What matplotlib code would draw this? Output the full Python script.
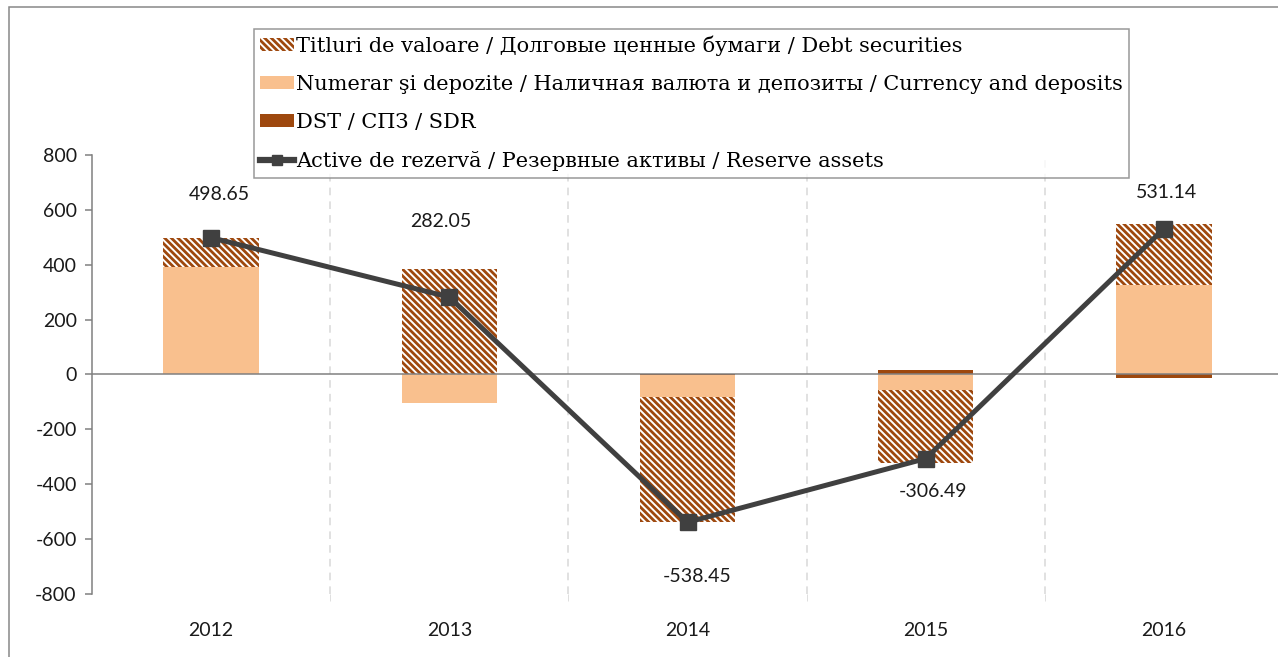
import matplotlib
matplotlib.use("Agg")
import matplotlib.pyplot as plt
import numpy as np
from matplotlib.lines import Line2D
from matplotlib.patches import Patch, Rectangle

years = ["2012", "2013", "2014", "2015", "2016"]
debt_securities = [107, 385.5, -457, -266, 223]
currency_deposits = [392, -103.5, -79, -55, 326]
sdr = [0, 0, -2, 15, -11]
reserve_assets = [498.65, 282.05, -538.45, -306.49, 531.14]

lbl_debt = "Titluri de valoare / Долговые ценные бумаги / Debt securities"
lbl_cur = "Numerar şi depozite / Наличная валюта и депозиты / Currency and deposits"
lbl_sdr = "DST / СПЗ / SDR"
lbl_res = "Active de rezervă / Резервные активы / Reserve assets"

BROWN = "#9E480E"
PEACH = "#F9C08E"
LINE = "#404040"
GRAY = "#808080"
HATCH = "\\" * 5

plt.rcParams["hatch.linewidth"] = 2.0
plt.rcParams["hatch.color"] = BROWN
plt.rcParams["axes.unicode_minus"] = False

fig = plt.figure(figsize=(12.78, 6.57), dpi=100)
ax = fig.add_axes([92 / 1278, 1 - 594 / 657, (1283 - 92) / 1278, (594 - 155) / 657])

x = np.arange(len(years))
width = 0.4

# Excel-artig: positive und negative Werte getrennt stapeln
pos_base = np.zeros(len(years))
neg_base = np.zeros(len(years))
for vals, style in [
    (sdr, dict(color=BROWN)),
    (currency_deposits, dict(color=PEACH)),
    (debt_securities, dict(facecolor="white", edgecolor=BROWN, hatch=HATCH, linewidth=0)),
]:
    v = np.array(vals, dtype=float)
    base = np.where(v >= 0, pos_base, neg_base)
    ax.bar(x, v, width, bottom=base, zorder=2, **style)
    pos_base += np.where(v >= 0, v, 0)
    neg_base += np.where(v < 0, v, 0)

ax.plot(x, reserve_assets, color=LINE, lw=3.6, marker="s", markersize=11.5, zorder=4)

label_offsets = [(8, 43), (-9, 76), (10, -54), (7, -33), (3, 36)]
for xi, val, (dx, dy) in zip(x, reserve_assets, label_offsets):
    ax.annotate(f"{val:.2f}", (xi, val), xytext=(dx, dy), textcoords="offset pixels",
                ha="center", va="center", fontsize=14, family="Lato", color="#1a1a1a")

ax.axhline(0, color=GRAY, lw=1.1, zorder=3)

ax.set_xlim(-0.5, len(years) - 0.5)
ax.set_ylim(-800, 800)
ax.set_yticks(np.arange(-800, 801, 200))
ax.set_xticks(x)
ax.set_xticklabels(years)
ax.set_xticks(x[:-1] + 0.5, minor=True)
ax.grid(which="minor", axis="x", color="#D9D9D9", ls=(0, (5, 4)), lw=1.1, zorder=0)
ax.tick_params(axis="x", which="major", length=0, pad=20)
ax.tick_params(axis="x", which="minor", length=5, color="#D9D9D9")
ax.tick_params(axis="y", length=5, color=GRAY, width=1.1, pad=6)
for lab in ax.get_xticklabels() + ax.get_yticklabels():
    lab.set_family("Lato")
    lab.set_fontsize(14)
    lab.set_color("#1a1a1a")

for side in ["top", "right", "bottom"]:
    ax.spines[side].set_visible(False)
ax.spines["left"].set_color(GRAY)
ax.spines["left"].set_linewidth(1.1)

handles = [
    Patch(facecolor="white", edgecolor=BROWN, hatch=HATCH, linewidth=0, label=lbl_debt),
    Patch(facecolor=PEACH, edgecolor="none", label=lbl_cur),
    Patch(facecolor=BROWN, edgecolor="none", label=lbl_sdr),
    Line2D([], [], color=LINE, lw=4.5, marker="s", markersize=7, label=lbl_res),
]
leg = fig.legend(handles=handles, loc="upper left", bbox_to_anchor=(254 / 1278, 1 - 29 / 657),
                 frameon=True, fancybox=False, prop={"family": "DejaVu Serif", "size": 15},
                 handlelength=1.6, handleheight=0.55, handletextpad=0.1, labelspacing=0.92,
                 borderpad=0.3, borderaxespad=0)
leg.get_frame().set_edgecolor(GRAY)
leg.get_frame().set_linewidth(1.1)

# Rahmen des Diagrammbereichs (oben/rechts angeschnitten)
fig.patches.append(Rectangle((9 / 1278, -0.05), 1.1, 1 - 7 / 657 + 0.05, transform=fig.transFigure,
                             fill=False, edgecolor="#888888", lw=1.1))

fig.savefig("out.png", dpi=100)
